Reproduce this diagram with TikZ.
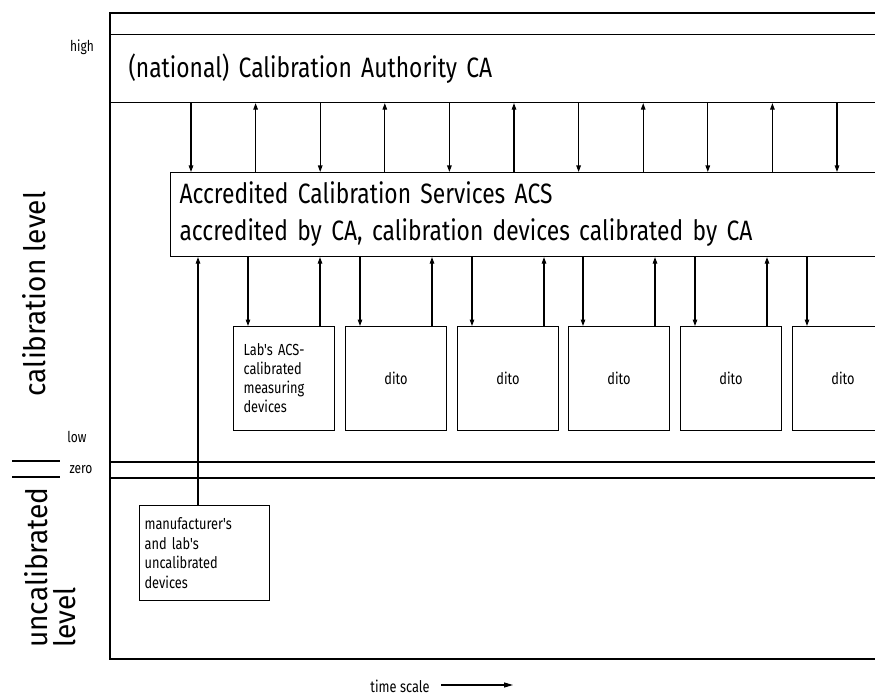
\documentclass[tikz,border=0pt]{standalone}
\usepackage{fontspec}
\usetikzlibrary{arrows.meta}
\newfontfamily\dinbig{Fira Sans}[FakeStretch=0.815]
\newfontfamily\dinside{Fira Sans}[FakeStretch=0.95]
\newfontfamily\dinsmall{Fira Sans}[FakeStretch=0.8]
\begin{document}
\begin{tikzpicture}[x=1pt,y=-1pt,
  ln/.style={line width=1.1pt},
  arr/.style={ln,-{Triangle[length=6.5pt,width=4.5pt]}},
  bigtxt/.style={font=\dinbig\fontsize{28}{37}\selectfont},
  smalltxt/.style={font=\dinsmall\fontsize{16}{19}\selectfont},
  lbl/.style={font=\dinsmall\fontsize{15}{18}\selectfont, inner sep=0pt},
  sidetxt/.style={font=\dinside\fontsize{29.5}{28}\selectfont, rotate=90, inner sep=0pt},
  devbox/.style={draw, ln, minimum width=101pt, minimum height=104pt, inner sep=0pt, anchor=north west, smalltxt}
]
\useasboundingbox (0,0) rectangle (875,695);
\clip (0,0) rectangle (875,695);
\fill[white] (0,0) rectangle (875,695);

% outer frame
\draw[ln] (900,13) -- (110,13) -- (110,659) -- (900,659);

% calibration authority
\node[draw, ln, anchor=north west, minimum width=790pt, minimum height=68pt,
      text width=754pt, inner xsep=18pt, align=left, bigtxt] (CA) at (110,34)
      {(national) Calibration Authority CA};

% accredited calibration services
\node[draw, ln, anchor=north west, minimum width=730pt, minimum height=84pt,
      text width=712pt, inner xsep=9pt, align=left, bigtxt] (ACS) at (170,172)
      {Accredited Calibration Services ACS\\accredited by CA, calibration devices calibrated by CA};

% arrows CA <-> ACS
\foreach \k in {0,...,10} {
  \pgfmathsetmacro{\xx}{191+64.6*\k}
  \coordinate (t\k) at (\xx,0);
  \ifodd\k
    \draw[arr] (t\k |- ACS.north) -- (t\k |- CA.south);
  \else
    \draw[arr] (t\k |- CA.south) -- (t\k |- ACS.north);
  \fi
}

% zero level lines
\draw[ln] (110,462) -- (900,462);
\draw[ln] (110,478) -- (900,478);

% device boxes
\node[devbox, text width=81pt, inner xsep=10pt, align=left] (B0) at (233,326)
  {Lab's ACS-\\calibrated\\measuring\\devices};
\node[devbox, align=center] (B1) at (345,326) {dito};
\node[devbox, align=center] (B2) at (457,326) {dito};
\node[devbox, align=center] (B3) at (568,326) {dito};
\node[devbox, align=center] (B4) at (680,326) {dito};
\node[devbox, align=center] (B5) at (792,326) {dito};

\foreach \b in {0,...,5} {
  \draw[arr] ([xshift=15pt]B\b.north west |- ACS.south) -- ([xshift=15pt]B\b.north west);
  \draw[arr] ([xshift=87pt]B\b.north west) -- ([xshift=87pt]B\b.north west |- ACS.south);
}

% uncalibrated devices
\node[draw, ln, anchor=north west, minimum width=130pt, minimum height=95pt,
      text width=120pt, inner xsep=5pt, align=left,
      font=\dinsmall\fontsize{16}{19.5}\selectfont] (M) at (139,505)
  {manufacturer's\\and lab's\\uncalibrated\\devices};
\coordinate (mx) at (198,0);
\draw[arr] (mx |- M.north) -- (mx |- ACS.south);

% level labels
\node[lbl] (high) at (82,47) {high};
\node[lbl] (low) at (77,437) {low};
\node[lbl] (zero) at (81,470) {zero};
\draw[ln] (12,461) -- (60,461);
\draw[ln] (12,477) -- (60,477);

\node[sidetxt, anchor=base] (cal) at (45,294) {calibration level};
\node[sidetxt, anchor=north west, align=left] (uncal) at (24,648) {uncalibrated\\level};

% time scale
\node[lbl, font=\dinsmall\fontsize{16}{18}\selectfont] (ts) at (400,686) {time scale};
\coordinate (ta) at (441,685);
\coordinate (tb) at (513,685);
\draw[ln, -{Triangle[length=9pt,width=5pt]}] (ta) -- (tb);
\end{tikzpicture}
\end{document}
